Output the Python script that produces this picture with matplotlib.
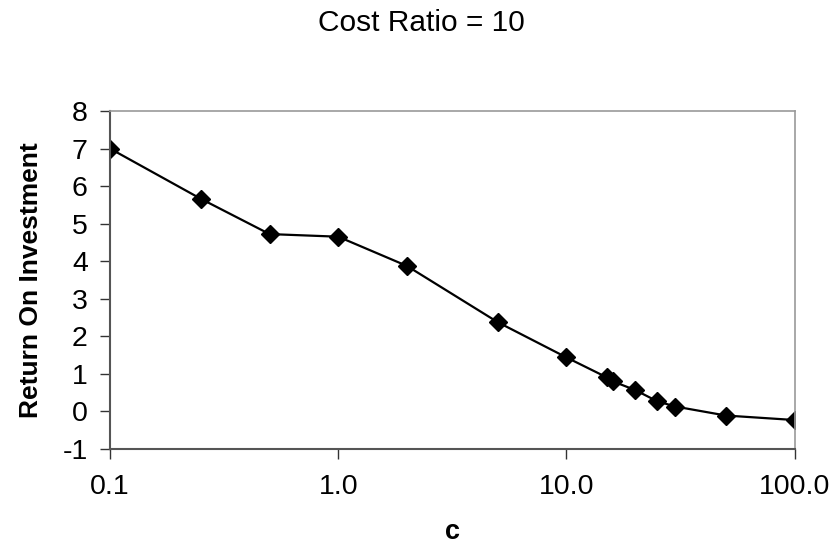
import matplotlib
matplotlib.use('Agg')
import matplotlib.pyplot as plt

# values
c_values = [0.1, 0.25, 0.5, 1.0, 2.0, 5.0, 10.0, 15.0, 16.0, 20.0, 25.0, 30.0, 50.0, 100.0]
roi = [7.0, 5.66, 4.72, 4.65, 3.87, 2.37, 1.43, 0.90, 0.79, 0.56, 0.26, 0.12, -0.12, -0.24]

x_ticks = [0.1, 1.0, 10.0, 100.0]
x_tick_labels = ['0.1', '1.0', '10.0', '100.0']
y_ticks = [-1, 0, 1, 2, 3, 4, 5, 6, 7, 8]

plt.rcParams['font.family'] = ['Liberation Sans', 'DejaVu Sans']
plt.rcParams['axes.unicode_minus'] = False

fig = plt.figure(figsize=(8.4, 5.5), dpi=100)
ax = fig.add_axes([0.131, 0.1845, 0.815, 0.6135])

ax.plot(c_values, roi, color='black', linewidth=1.6, marker='D',
        markersize=9, markerfacecolor='black', markeredgecolor='black')

ax.set_xscale('log')
ax.set_xlim(0.1, 100)
ax.set_ylim(-1, 8)
ax.set_xticks(x_ticks)
ax.set_xticklabels(x_tick_labels)
ax.xaxis.set_minor_locator(matplotlib.ticker.NullLocator())
ax.set_yticks(y_ticks)

ax.tick_params(axis='both', direction='out', length=7, width=1, colors='#333333',
               labelcolor='black', labelsize=20.5)
ax.tick_params(axis='x', pad=11)
ax.tick_params(axis='y', pad=9)

for side in ['top', 'right']:
    ax.spines[side].set_color('#999999')
    ax.spines[side].set_linewidth(1.2)
for side in ['left', 'bottom']:
    ax.spines[side].set_color('#555555')
    ax.spines[side].set_linewidth(1.5)

ax.set_xlabel('c', fontsize=19.5, fontweight='bold', labelpad=14)
ax.set_ylabel('Return On Investment', fontsize=19, fontweight='bold', labelpad=14)
fig.text(0.502, 0.958, 'Cost Ratio = 10', fontsize=21.5, ha='center', va='center')

fig.savefig('out.png', dpi=100)
